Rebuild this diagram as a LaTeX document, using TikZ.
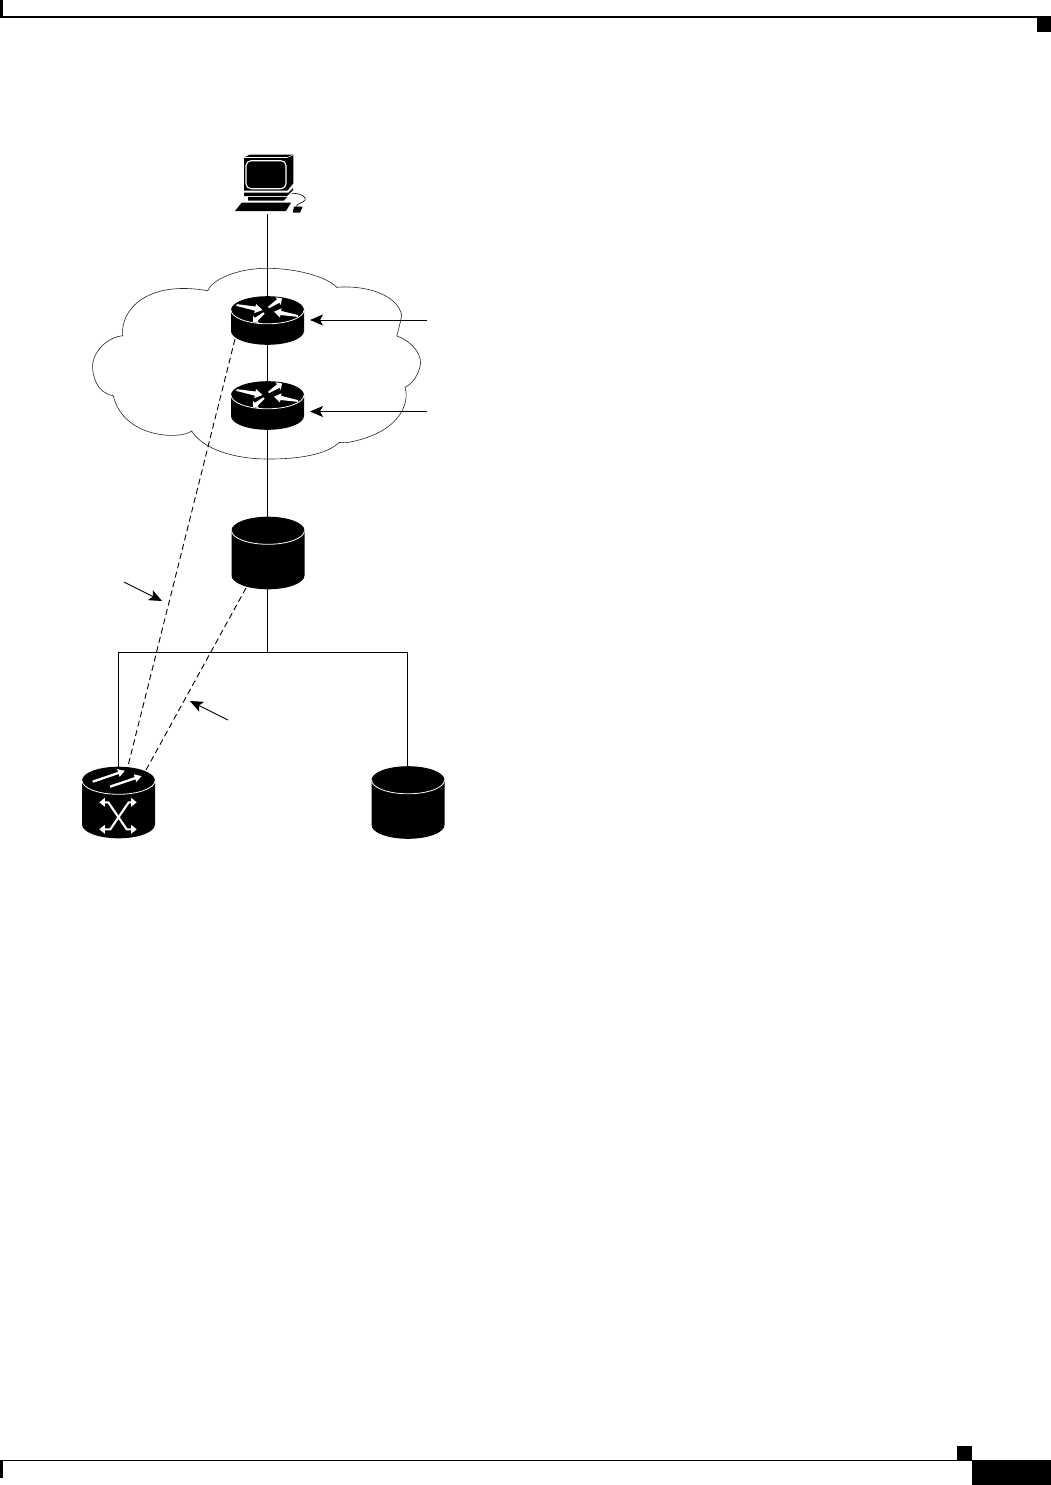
\documentclass[tikz,border=0pt]{standalone}
\usetikzlibrary{arrows.meta,calc}
\newcommand\taperarrow[2]{%
  \fill[white] ($#1!0.9pt!90:#2$)
    -- ($($#1!.72!#2$)!2.1pt!90:#2$)
    -- ($($#1!.72!#2$)!4.6pt!90:#2$)
    -- #2
    -- ($($#1!.72!#2$)!4.6pt!-90:#2$)
    -- ($($#1!.72!#2$)!2.1pt!-90:#2$)
    -- ($#1!0.9pt!-90:#2$) -- cycle;}
\tikzset{
  device/.style={rectangle,inner sep=0pt,outer sep=0pt,minimum width=72pt,minimum height=#1},
  link/.style={line width=0.9pt,black},
  tunnel/.style={line width=0.9pt,black,dash pattern=on 6pt off 3.6pt},
  callout/.style={line width=0.9pt,black,-{Stealth[length=13pt,width=11pt,inset=3pt]}},
  cloudline/.style={line width=0.6pt,black!85},
  thinwhitearrow/.style={white,line width=2.3pt,-{Triangle[length=7pt,width=7.5pt]}},
  xarrow/.style={white,line width=2.1pt,{Triangle[length=5.5pt,width=8.5pt]}-{Triangle[length=5.5pt,width=8.5pt]},line join=miter},
  pics/cyl/.style={code={
    % origin is the centre of the top ellipse; body 73 wide
    \fill[black] (-36.5,0) arc[start angle=180,end angle=0,x radius=36.5pt,y radius=13.8pt]
      -- (36.5,#1) arc[start angle=0,end angle=-180,x radius=36.5pt,y radius=13.8pt] -- cycle;
    \draw[white,line width=0.8pt] (-36.5,0) arc[start angle=180,end angle=360,x radius=36.5pt,y radius=13.8pt];
  }},
  pics/routerface/.style={code={
    \taperarrow{(-31,-5)}{(-5,0)}
    \taperarrow{(1,-2.5)}{(14.5,-11.5)}
    \taperarrow{(30.5,6)}{(6.5,1.7)}
    \taperarrow{(-3.5,3)}{(-14.5,12)}
  }}
}
\begin{document}
\begin{tikzpicture}[x=1pt,y=-1pt]
\useasboundingbox (0,0) rectangle (1051,1485);
\fill[white] (0,0) rectangle (1051,1485);

% page furniture
\fill[black] (0,16) rectangle (1051,18);
\fill[black] (0,0) rectangle (3,18);
\fill[black] (1037,18) rectangle (1051,32);
\fill[black] (0,1459.6) rectangle (972,1461.4);
\fill[black] (0,1460) rectangle (3,1478);
\fill[black] (957,1446) rectangle (972,1460);
\fill[black] (972,1460) rectangle (1051,1485);

% device footprints
\node[device=60pt,minimum width=72pt] (pc) at (267.5,184) {};
\node[device=49pt] (rone) at (267.5,320.5) {};
\node[device=49pt] (rtwo) at (267.5,405.5) {};
\node[device=72pt] (cylmid) at (267.5,553) {};
\node[device=72pt] (sw) at (118.5,802.5) {};
\node[device=72pt] (cylright) at (407.5,802.5) {};
\coordinate (bustop) at (267.5,652);
\coordinate (busleft) at (118.5,652);
\coordinate (busright) at (407.5,652);
\coordinate (pclow) at (267.5,214);
\coordinate (swtop) at (118.5,772);
\coordinate (dashonetop) at (235,339);
\coordinate (dashonelow) at (127,770);
\coordinate (dashtwotop) at (246,588);
\coordinate (dashtwolow) at (146,770);
\coordinate (calloutone) at (427,320);
\coordinate (callouttwo) at (427,411.5);
\coordinate (calloutthree) at (124,582);
\coordinate (tipthree) at (162,601);
\coordinate (calloutfour) at (228,720);
\coordinate (tipfour) at (190,701);

% cloud
\draw[cloudline]
 (207.7,290.7) .. controls (211.7,280) and (236.7,268.3) .. (266.7,268.3)
 .. controls (296.7,268.3) and (326.7,276.7) .. (336.7,287.3)
 .. controls (363.3,285) and (396.7,293.3) .. (401.7,315)
 .. controls (400,325) and (396.7,336) .. (396.7,336)
 .. controls (413.3,341.7) and (423.3,356.7) .. (420,366.7)
 .. controls (416.7,380) and (408.3,386) .. (405,387.3)
 .. controls (410,403.3) and (400,433.3) .. (346.7,442.7)
 .. controls (340,442.7) and (339.3,442.3) .. (339.3,442.3)
 .. controls (326.7,455) and (296.7,459.3) .. (266.7,459)
 .. controls (236.7,459) and (203.3,450) .. (191.7,431)
 .. controls (180,440) and (123.3,438.3) .. (113.3,395.7)
 .. controls (96.7,393.3) and (91.7,375) .. (92.7,363.3)
 .. controls (95,348.3) and (110,336.7) .. (122.7,335.7)
 .. controls (120,310) and (146.7,280) .. (207.7,290.7) -- cycle;

% connectors
\draw[link] (pclow) -- (rone.north);
\draw[link] (rone.south) -- (rtwo.north);
\draw[link] (rtwo.south) -- (cylmid.north);
\draw[link] (cylmid.south) -- (bustop);
\draw[link] (swtop) -- (busleft) -- (busright) -- (cylright.north);
\draw[tunnel] (dashonetop) -- (dashonelow);
\draw[tunnel] (dashtwotop) -- (dashtwolow);
\draw[callout] (calloutone) -- (310,320);
\draw[callout] (callouttwo) -- (310,411.5);
\draw[callout] (calloutthree) -- (tipthree);
\draw[callout] (calloutfour) -- (tipfour);

% routers
\pic at (267.5,310) {cyl=21};
\pic at (267.5,310) {routerface};
\pic at (267.5,395) {cyl=21};
\pic at (267.5,395) {routerface};

% plain cylinders
\pic at (268,530.5) {cyl=45};
\pic at (408,780) {cyl=45};

% optical switch
\pic at (118.5,780.5) {cyl=44};
\draw[thinwhitearrow] (92.7,781.7) -- (125,770.7);
\draw[thinwhitearrow] (110,786.7) -- (141.7,776);
\draw[xarrow] (99.3,802.3) -- (108.3,802.3) -- (126.7,829.3) -- (136.7,829.3);
\draw[xarrow] (136.7,802.3) -- (128.7,802.3) -- (110.3,829.3) -- (99.3,829.3);

% workstation
\fill[black] (244,157.3) -- (250,154.7) -- (293.3,154.7) -- (293.3,183.3) -- (287.3,190.7) -- (244,190.7) -- cycle;
\draw[white,line width=0.7pt] (244,157.6) -- (287.3,157.6);
\draw[white,line width=0.5pt] (287.3,157.6) -- (293.3,154.7);
\draw[white,line width=1.1pt,rounded corners=5pt] (246,160.7) rectangle (286,188.7);
\fill[black] (244,192.7) -- (288.3,192.7) -- (293,188) -- (293,190) -- (287,196) -- (244,196) -- cycle;
\fill[black] (248,197) -- (287,197) -- (284,200.5) -- (248,200.5) -- cycle;
\fill[black] (235,211) -- (241.7,202.7) -- (291,202.7) -- (286,211) -- cycle;
\fill[black] (292.7,212.7) -- (294,206.7) -- (302.7,206.7) -- (300,212.7) -- cycle;
\draw[black,line width=0.6pt] (291.7,193.3) .. controls (302,193) and (307,198) .. (305,200) .. controls (303,203) and (298,203) .. (296,206.5);
\end{tikzpicture}
\end{document}
